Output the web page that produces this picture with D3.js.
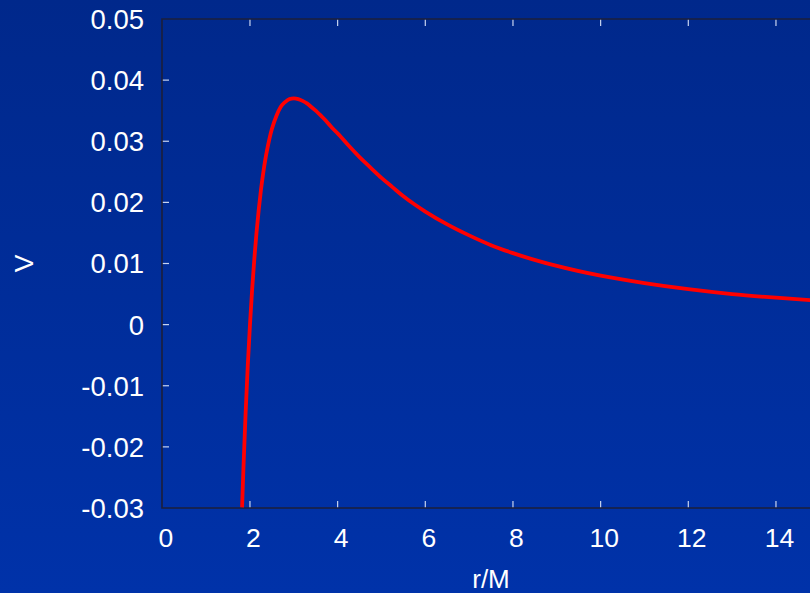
<!DOCTYPE html>
<html>
<head>
<meta charset="utf-8">
<script src="https://cdn.jsdelivr.net/npm/d3@7"></script>
<style>
html,body{margin:0;padding:0;overflow:hidden;background:#002a90;}
svg{display:block;}
</style>
</head>
<body>
<svg id="chart" width="810" height="593"></svg>
<script>
// r/M values
const rValues = [1.82,1.85,1.9,1.95,2.0,2.05,2.1,2.15,2.2,2.25,2.3,2.35,2.4,2.45,2.5,2.6,2.7,2.8,2.9,3.0,3.1,3.2,3.3,3.4,3.5,3.6,3.7,3.8,3.9,4.0,4.25,4.5,4.75,5.0,5.25,5.5,5.75,6.0,6.5,7.0,7.5,8.0,9.0,10.0,11.0,12.0,13.0,14.0,15.0];
// potential V at those points
const vValues = [-0.0299,-0.0237,-0.0146,-0.0067,0.0,0.0058,0.0108,0.0151,0.0188,0.0220,0.0247,0.0270,0.0289,0.0306,0.0320,0.0341,0.0356,0.0364,0.0369,0.0370,0.0369,0.0366,0.0362,0.0356,0.0350,0.0343,0.0336,0.0328,0.0320,0.0313,0.0293,0.0274,0.0257,0.0240,0.0225,0.0210,0.0197,0.0185,0.0164,0.0146,0.0130,0.0117,0.0096,0.0080,0.0068,0.0058,0.0050,0.0044,0.0039];
const xTicks = [0,2,4,6,8,10,12,14];
const yTicks = [-0.03,-0.02,-0.01,0,0.01,0.02,0.03,0.04,0.05];
const yTickLabels = ["-0.03","-0.02","-0.01","0","0.01","0.02","0.03","0.04","0.05"];
const xLabel = "r/M";
const yLabel = "V";

const svg = d3.select("#chart");
const W = 810, H = 593;

const defs = svg.append("defs");
const grad = defs.append("linearGradient").attr("id","bg").attr("x1",0).attr("y1",0).attr("x2",0).attr("y2",1);
grad.append("stop").attr("offset","0%").attr("stop-color","#00288b");
grad.append("stop").attr("offset","100%").attr("stop-color","#0032a9");
svg.append("rect").attr("width",W).attr("height",H).attr("fill","url(#bg)");

const x = d3.scaleLinear().domain([0,15]).range([162.3,819.8]);
const y = d3.scaleLinear().domain([-0.03,0.05]).range([508,19]);

const clip = defs.append("clipPath").attr("id","plotclip");
clip.append("rect").attr("x",162).attr("y",19).attr("width",660).attr("height",489);

const font = "'Liberation Sans', Arial, sans-serif";

// inner ticks (bottom and top)
const g = svg.append("g");
xTicks.forEach(t => {
  if (t === 0) return;
  g.append("line").attr("x1",x(t)).attr("x2",x(t)).attr("y1",508).attr("y2",501)
    .attr("stroke","#c8d4f0").attr("stroke-width",1.2);
  g.append("line").attr("x1",x(t)).attr("x2",x(t)).attr("y1",19).attr("y2",26)
    .attr("stroke","#c8d4f0").attr("stroke-width",1.2);
});
yTicks.forEach(t => {
  if (t === -0.03 || t === 0.05) return;
  g.append("line").attr("x1",162).attr("x2",169).attr("y1",y(t)).attr("y2",y(t))
    .attr("stroke","#c8d4f0").attr("stroke-width",1.2);
});

// frame
svg.append("path")
  .attr("d",`M${x(15)},19 H162 V508 H${x(15)}`)
  .attr("fill","none").attr("stroke","#1c1f3a").attr("stroke-width",1.6);

// tick labels
const xAxisG = svg.append("g");
xAxisG.selectAll("text").data(xTicks).join("text")
  .attr("x", d => x(d) + 3.5).attr("y", 547)
  .attr("text-anchor","middle").attr("fill","#ffffff")
  .attr("font-family",font).attr("font-size",26.5)
  .text(d => d);

const yAxisG = svg.append("g");
yAxisG.selectAll("text").data(yTicks).join("text")
  .attr("x", 144).attr("y", d => y(d))
  .attr("dy","0.36em")
  .attr("text-anchor","end").attr("fill","#ffffff")
  .attr("font-family",font).attr("font-size",27.5)
  .text((d,i) => yTickLabels[i]);

// axis titles
svg.append("text").attr("x",491).attr("y",588)
  .attr("text-anchor","middle").attr("fill","#ffffff")
  .attr("font-family",font).attr("font-size",26).text(xLabel);
svg.append("text")
  .attr("transform","translate(33,263.5) rotate(-90)")
  .attr("text-anchor","middle").attr("fill","#ffffff")
  .attr("font-family",font).attr("font-size",26.5).text(yLabel);

// curve
const data = rValues.map((r,i) => ({r, v: vValues[i]}));
const line = d3.line().x(d => x(d.r)).y(d => y(d.v)).curve(d3.curveMonotoneX);
svg.append("path").datum(data)
  .attr("clip-path","url(#plotclip)")
  .attr("d",line)
  .attr("fill","none").attr("stroke","#ff0000").attr("stroke-width",3.8)
  .attr("stroke-linejoin","round");
</script>
</body>
</html>
